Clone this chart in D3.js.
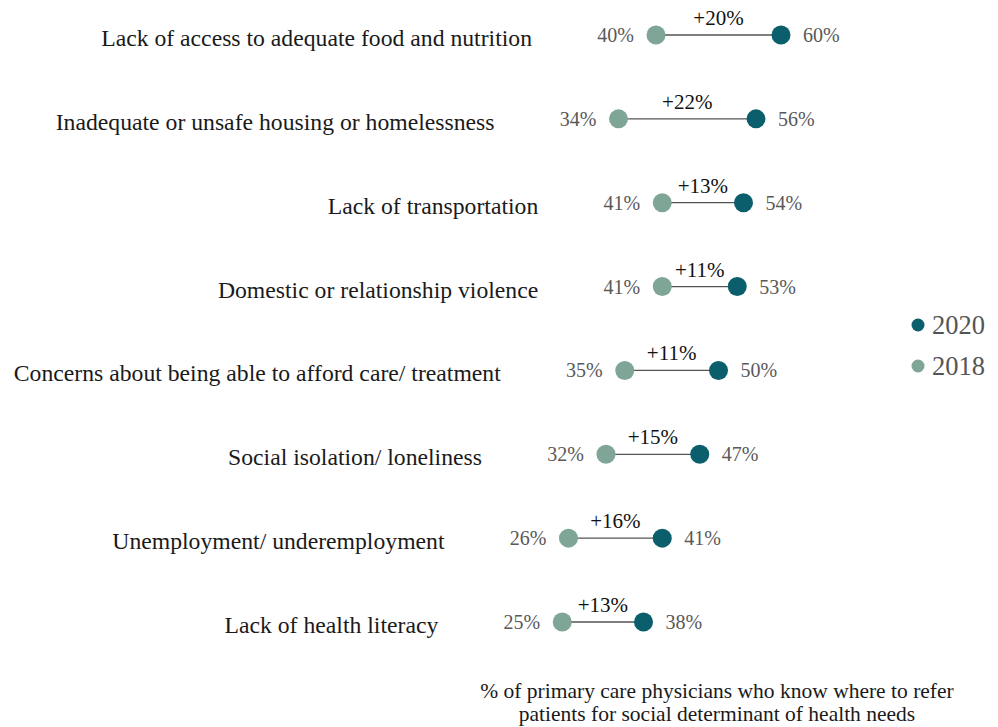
<!DOCTYPE html>
<html><head><meta charset="utf-8">
<script src="https://cdn.jsdelivr.net/npm/d3@7"></script>
<style>body{margin:0;background:#fff}</style>
</head><body>
<svg id="chart" width="998" height="727"></svg>
<script>
const categories = [
  "Lack of access to adequate food and nutrition",
  "Inadequate or unsafe housing or homelessness",
  "Lack of transportation",
  "Domestic or relationship violence",
  "Concerns about being able to afford care/ treatment",
  "Social isolation/ loneliness",
  "Unemployment/ underemployment",
  "Lack of health literacy"
];
const values2018 = [40, 34, 41, 41, 35, 32, 26, 25];
const values2020 = [60, 56, 54, 53, 50, 47, 41, 38];
const changeLabels = ["+20%", "+22%", "+13%", "+11%", "+11%", "+15%", "+16%", "+13%"];
const seriesNames = ["2020", "2018"];
const titleLines = ["% of primary care physicians who know where to refer", "patients for social determinant of health needs"];

const c2020 = "#0b5e6c", c2018 = "#7ea595";
const svg = d3.select("#chart");
const font = "'Liberation Serif','Times New Roman',serif";

const x = d3.scaleLinear().domain([0, 60]).range([406, 781]);
const y = d3.scalePoint().domain(categories).range([35, 622]);

const rows = categories.map((c, i) => ({c, a: values2018[i], b: values2020[i], d: changeLabels[i]}));
const g = svg.append("g").attr("font-family", font);

const row = g.selectAll("g.row").data(rows).join("g").attr("class", "row")
  .attr("transform", d => `translate(0,${y(d.c)})`);

row.append("line")
  .attr("x1", d => x(d.a)).attr("x2", d => x(d.b))
  .attr("stroke", "#555").attr("stroke-width", 1.3);
row.append("circle").attr("cx", d => x(d.a)).attr("r", 9.5).attr("fill", c2018);
row.append("circle").attr("cx", d => x(d.b)).attr("r", 9.5).attr("fill", c2020);

row.append("text").attr("x", d => x(d.a) - 22).attr("y", 7)
  .attr("text-anchor", "end").attr("font-size", 20).attr("fill", "#595959")
  .text(d => d.a + "%");
row.append("text").attr("x", d => x(d.b) + 22).attr("y", 7)
  .attr("text-anchor", "start").attr("font-size", 20).attr("fill", "#595959")
  .text(d => d.b + "%");
row.append("text").attr("x", d => (x(d.a) + x(d.b)) / 2).attr("y", -10)
  .attr("text-anchor", "middle").attr("font-size", 21).attr("fill", "#111")
  .text(d => d.d);
row.append("text").attr("class", "cat").attr("x", d => x(d.a) - 124).attr("y", 11)
  .attr("text-anchor", "end").attr("font-size", 23.7).attr("fill", "#1a1a1a")
  .text(d => d.c);

const leg = g.append("g").selectAll("g").data(seriesNames).join("g")
  .attr("transform", (d, i) => `translate(918,${325 + i * 41})`);
leg.append("circle").attr("r", 6.5).attr("fill", d => d === "2020" ? c2020 : c2018);
leg.append("text").attr("x", 14).attr("y", 9).attr("font-size", 26.5).attr("fill", "#555").text(d => d);

g.append("text").attr("x", 717).attr("y", 698).attr("text-anchor", "middle")
  .attr("font-size", 21.5).attr("fill", "#1a1a1a")
  .selectAll("tspan").data(titleLines).join("tspan")
  .attr("x", 717).attr("dy", (d, i) => i ? 23 : 0).text(d => d);
</script>
</body></html>
